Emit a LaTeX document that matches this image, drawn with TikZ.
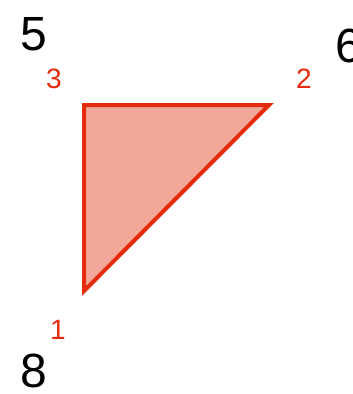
\documentclass[tikz,border=0pt]{standalone}
\usepackage{fontspec}
\setmainfont{Liberation Sans}
\usepackage{tikz}
\usetikzlibrary{positioning}
\definecolor{TriRed}{HTML}{E62A0D}
\definecolor{TriFill}{HTML}{F2A898}
\definecolor{TriBlack}{HTML}{000000}
\tikzset{
    % Big corner numbers
    bignum/.style={
        text=TriBlack,
        inner sep=0pt,
        font=\fontsize{48}{48}\selectfont
    },
    % Small vertex numbers
    vertexnum/.style={
        text=TriRed,
        inner sep=0pt,
        font=\fontsize{28}{28}\selectfont
    },
    % Triangle face
    triface/.style={
        draw=TriRed,
        fill=TriFill,
        line width=4pt,
        line join=miter
    }
}
\begin{document}
\begin{tikzpicture}[x=1pt,y=-1pt]
    \useasboundingbox (0,0) rectangle (353,394);
    \coordinate (v1) at (84,291);
    \coordinate (v2) at (269,105);
    \coordinate (v3) at (84,105);
    \draw[triface] (v1) -- (v2) -- (v3) -- cycle;
    \node[vertexnum] (n1) at (58,330) {1};
    \node[vertexnum] (n2) at (304,79) {2};
    \node[vertexnum] (n3) at (54,79) {3};
    \node[bignum] (n5) at (34,34) {5};
    \node[bignum] (n6) at (349,46) {6};
    \node[bignum] (n8) at (34,371) {8};
\end{tikzpicture}
\end{document}
